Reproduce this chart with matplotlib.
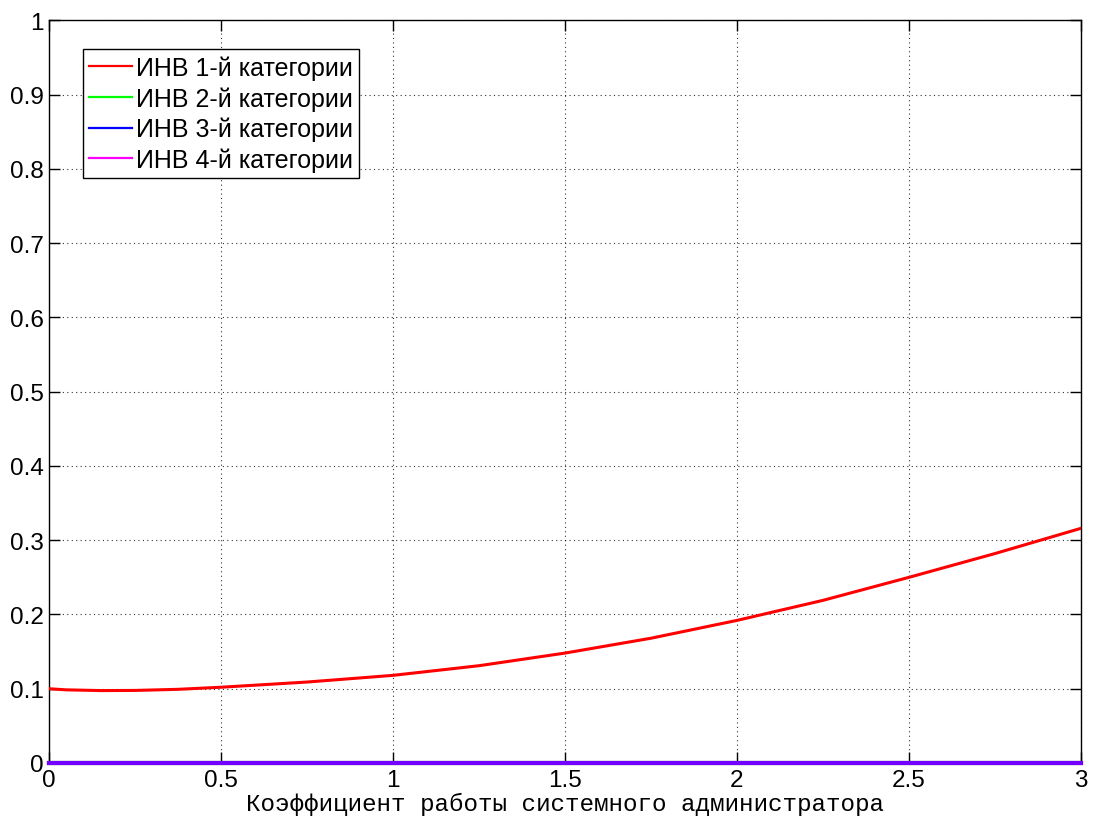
import matplotlib
matplotlib.use("Agg")
import matplotlib.pyplot as plt
import matplotlib.lines as mlines

# Коэффициент работы системного администратора
k = [0.0, 0.05, 0.15, 0.25, 0.375, 0.5, 0.75, 1.0, 1.25, 1.5, 1.75, 2.0,
     2.25, 2.5, 2.75, 3.0]

# ИНВ по категориям
inv_cat1 = [0.100, 0.0985, 0.0975, 0.0977, 0.0992, 0.102, 0.109, 0.118, 0.131,
            0.148, 0.168, 0.192, 0.219, 0.250, 0.282, 0.316]
inv_cat2 = [0.0] * len(k)
inv_cat3 = [0.0] * len(k)
inv_cat4 = [0.0] * len(k)

labels = ["ИНВ 1-й категории", "ИНВ 2-й категории",
          "ИНВ 3-й категории", "ИНВ 4-й категории"]

x_ticks = [0, 0.5, 1, 1.5, 2, 2.5, 3]
x_tick_labels = ["0", "0.5", "1", "1.5", "2", "2.5", "3"]
y_ticks = [0, 0.1, 0.2, 0.3, 0.4, 0.5, 0.6, 0.7, 0.8, 0.9, 1]
y_tick_labels = ["0", "0.1", "0.2", "0.3", "0.4", "0.5", "0.6", "0.7", "0.8", "0.9", "1"]

plt.rcParams["font.family"] = ["Liberation Sans", "DejaVu Sans"]

fig = plt.figure(figsize=(10.94, 8.20), dpi=100)
ax = fig.add_axes([0.0448, 0.0683, 0.9433, 0.9057])

ax.plot(k, inv_cat1, color="#ff0000", lw=2.2, zorder=5)
ax.plot(k, inv_cat2, color="#00ff00", lw=3.0, zorder=3, clip_on=False)
ax.plot(k, inv_cat4, color="#ff00ff", lw=3.0, zorder=3.5, clip_on=False)
ax.plot(k, inv_cat3, color="#0000ff", lw=3.0, alpha=0.55, zorder=4, clip_on=False)

ax.set_xlim(0, 3)
ax.set_ylim(0, 1)
ax.set_xticks(x_ticks)
ax.set_xticklabels(x_tick_labels)
ax.set_yticks(y_ticks)
ax.set_yticklabels(y_tick_labels)

ax.grid(True, linestyle=(0, (1, 3)), color="black", linewidth=0.8, alpha=0.8)
ax.tick_params(direction="in", length=8, width=1, labelsize=17.5, pad=4,
               top=True, right=True, colors="black")
for sp in ax.spines.values():
    sp.set_linewidth(1.0)
    sp.set_color("black")

ax.set_xlabel("Коэффициент работы системного администратора",
              family=["Liberation Mono", "DejaVu Sans Mono"], fontsize=17.5,
              labelpad=1)

handles = [
    mlines.Line2D([], [], color="#ff0000", lw=1.6),
    mlines.Line2D([], [], color="#00ff00", lw=1.6),
    mlines.Line2D([], [], color="#0000ff", lw=1.6),
    mlines.Line2D([], [], color="#ff00ff", lw=1.6),
]
leg = ax.legend(handles, labels, loc="upper left", bbox_to_anchor=(0.033, 0.961),
                borderaxespad=0, fontsize=18, handlelength=1.72, handletextpad=0.16,
                labelspacing=0.25, borderpad=0.24, fancybox=False, framealpha=1,
                edgecolor="black")
leg.get_frame().set_linewidth(1.0)

fig.savefig("out.png", dpi=100)
